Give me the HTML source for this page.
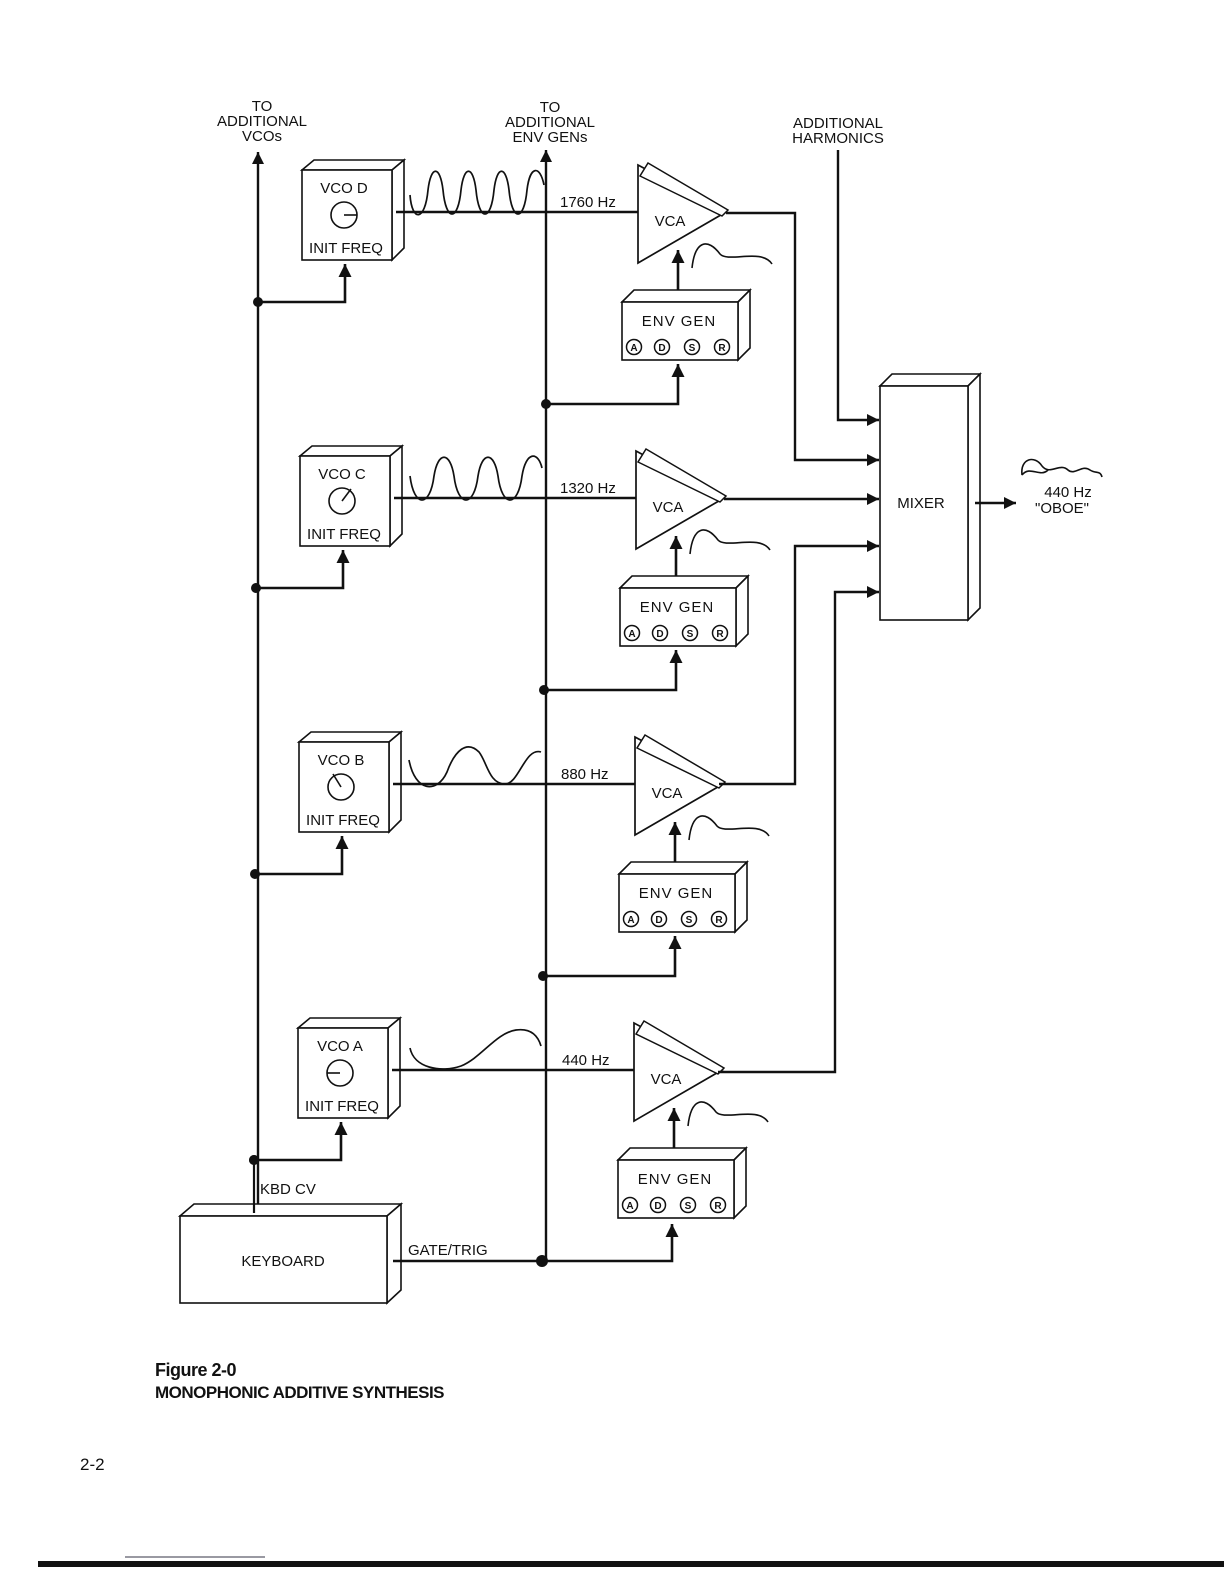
<!DOCTYPE html>
<html><head><meta charset="utf-8"><style>
html,body{margin:0;padding:0;background:#fff;}
svg{display:block;}
text{font-family:"Liberation Sans",sans-serif;fill:#111;}
</style></head><body>
<svg width="1224" height="1584" viewBox="0 0 1224 1584" xmlns="http://www.w3.org/2000/svg">
<defs>
<marker id="ah" viewBox="0 0 10 10" refX="10" refY="5" markerWidth="5" markerHeight="5" orient="auto" markerUnits="strokeWidth">
<path d="M0,0 L10,5 L0,10 z" fill="#111"/></marker>
<g id="rowbase">
 <polygon points="302,170 314,160 404,160 392,170" fill="#fff" stroke="#111" stroke-width="1.6"/>
 <polygon points="392,170 404,160 404,248 392,260" fill="#fff" stroke="#111" stroke-width="1.6"/>
 <rect x="302" y="170" width="90" height="90" fill="#fff" stroke="#111" stroke-width="1.6"/>
 <circle cx="344" cy="215" r="13" fill="none" stroke="#111" stroke-width="1.6"/>
 <text x="346" y="253" font-size="15" text-anchor="middle">INIT FREQ</text>
 <circle cx="258" cy="302" r="5" fill="#111"/>
 <polyline points="258,302 345,302 345,264" fill="none" stroke="#111" stroke-width="2.6" marker-end="url(#ah)"/>
 <line x1="396" y1="212" x2="638" y2="212" stroke="#111" stroke-width="2.4"/>
 <polygon points="638,165 726,212 638,263" fill="#fff" stroke="#111" stroke-width="1.7"/>
 <polygon points="648,163 728,210 722,216 640,176" fill="#fff" stroke="#111" stroke-width="1.5"/>
 <text x="670" y="226" font-size="15" text-anchor="middle">VCA</text>
 <path d="M692,268 C695,240 708,238 720,254 C728,263 762,248 772,264" fill="none" stroke="#111" stroke-width="1.6"/>
 <line x1="678" y1="292" x2="678" y2="250" stroke="#111" stroke-width="2.6" marker-end="url(#ah)"/>
 <polygon points="622,302 634,290 750,290 738,302" fill="#fff" stroke="#111" stroke-width="1.6"/>
 <polygon points="738,302 750,290 750,348 738,360" fill="#fff" stroke="#111" stroke-width="1.6"/>
 <rect x="622" y="302" width="116" height="58" fill="#fff" stroke="#111" stroke-width="1.6"/>
 <text x="679" y="326" font-size="15" text-anchor="middle" letter-spacing="1">ENV  GEN</text>
 <g font-size="10" text-anchor="middle" font-weight="bold">
  <circle cx="634" cy="347" r="7.5" fill="none" stroke="#111" stroke-width="1.5"/><text x="634" y="351">A</text>
  <circle cx="662" cy="347" r="7.5" fill="none" stroke="#111" stroke-width="1.5"/><text x="662" y="351">D</text>
  <circle cx="692" cy="347" r="7.5" fill="none" stroke="#111" stroke-width="1.5"/><text x="692" y="351">S</text>
  <circle cx="722" cy="347" r="7.5" fill="none" stroke="#111" stroke-width="1.5"/><text x="722" y="351">R</text>
 </g>
</g>
<g id="row">
 <use href="#rowbase"/>
 <circle cx="546" cy="404" r="5" fill="#111"/>
 <polyline points="546,404 678,404 678,364" fill="none" stroke="#111" stroke-width="2.6" marker-end="url(#ah)"/>
</g>
</defs>

<line x1="258" y1="1210" x2="258" y2="152" stroke="#111" stroke-width="2.4" marker-end="url(#ah)"/>
<line x1="546" y1="1262" x2="546" y2="150" stroke="#111" stroke-width="2.4" marker-end="url(#ah)"/>
<g font-size="15" text-anchor="middle">
<text x="262" y="111">TO</text><text x="262" y="126">ADDITIONAL</text><text x="262" y="141">VCOs</text>
<text x="550" y="112">TO</text><text x="550" y="127">ADDITIONAL</text><text x="550" y="142">ENV GENs</text>
<text x="838" y="128">ADDITIONAL</text><text x="838" y="143">HARMONICS</text>
</g>

<use href="#row"/>
<text x="344" y="193" font-size="15" text-anchor="middle">VCO D</text>
<line x1="344" y1="215" x2="357" y2="215" stroke="#111" stroke-width="1.6"/>
<path d="M410,195 C412,222 425,222 428,190 C431,165 440,165 443,190 C446,222 458,222 461,190 C464,165 473,165 476,190 C479,222 491,222 494,190 C497,165 506,165 509,190 C512,222 524,222 527,190 C530,165 540,165 544,185" fill="none" stroke="#111" stroke-width="1.7"/>
<text x="560" y="207" font-size="15">1760 Hz</text>

<g transform="translate(-2,286)"><use href="#row"/>
<text x="344" y="193" font-size="15" text-anchor="middle">VCO C</text>
<line x1="344" y1="215" x2="353" y2="203" stroke="#111" stroke-width="1.6"/>
<path d="M412,190 C416,222 432,222 436,190 C440,165 452,165 456,190 C460,222 476,222 480,190 C484,165 496,165 500,190 C504,222 520,222 524,190 C528,165 540,165 544,182" fill="none" stroke="#111" stroke-width="1.7"/>
<text x="562" y="207" font-size="15">1320 Hz</text>
</g>

<g transform="translate(-3,572)"><use href="#row"/>
<text x="344" y="193" font-size="15" text-anchor="middle">VCO B</text>
<line x1="344" y1="215" x2="336" y2="202" stroke="#111" stroke-width="1.6"/>
<path d="M412,188 C418,220 440,222 450,200 C458,178 470,168 482,180 C490,190 492,212 508,212 C522,212 528,175 544,180" fill="none" stroke="#111" stroke-width="1.7"/>
<text x="564" y="207" font-size="15">880 Hz</text>
</g>

<g transform="translate(-4,858)"><use href="#rowbase"/>
<text x="344" y="193" font-size="15" text-anchor="middle">VCO A</text>
<line x1="344" y1="215" x2="331" y2="215" stroke="#111" stroke-width="1.6"/>
<path d="M414,190 C418,210 445,215 465,208 C485,200 500,175 520,172 C535,170 542,178 545,188" fill="none" stroke="#111" stroke-width="1.7"/>
<text x="566" y="207" font-size="15">440 Hz</text>
</g>

<polygon points="880,386 892,374 980,374 968,386" fill="#fff" stroke="#111" stroke-width="1.6"/>
<polygon points="968,386 980,374 980,608 968,620" fill="#fff" stroke="#111" stroke-width="1.6"/>
<rect x="880" y="386" width="88" height="234" fill="#fff" stroke="#111" stroke-width="1.6"/>
<text x="921" y="508" font-size="15" text-anchor="middle">MIXER</text>
<g fill="none" stroke="#111" stroke-width="2.4">
<polyline points="838,150 838,420 879,420" marker-end="url(#ah)"/>
<polyline points="726,213 795,213 795,460 879,460" marker-end="url(#ah)"/>
<polyline points="724,499 879,499" marker-end="url(#ah)"/>
<polyline points="719,784 795,784 795,546 879,546" marker-end="url(#ah)"/>
<polyline points="718,1072 835,1072 835,592 879,592" marker-end="url(#ah)"/>
<polyline points="975,503 1016,503" marker-end="url(#ah)"/>
</g>
<path d="M1022,475 C1020,458 1035,455 1042,466 C1050,476 1060,462 1068,470 C1075,476 1082,464 1090,470 C1096,474 1100,470 1102,477 M1022,475 C1030,465 1040,478 1048,470" fill="none" stroke="#111" stroke-width="1.6"/>
<text x="1068" y="497" font-size="15" text-anchor="middle">440 Hz</text>
<text x="1062" y="513" font-size="15" text-anchor="middle">"OBOE"</text>

<circle cx="254" cy="1160" r="5" fill="#111"/>
<polygon points="180,1216 194,1204 401,1204 387,1216" fill="#fff" stroke="#111" stroke-width="1.6"/>
<polygon points="387,1216 401,1204 401,1290 387,1303" fill="#fff" stroke="#111" stroke-width="1.6"/>
<rect x="180" y="1216" width="207" height="87" fill="#fff" stroke="#111" stroke-width="1.6"/>
<line x1="254" y1="1160" x2="254" y2="1213" stroke="#111" stroke-width="2.2"/>
<text x="283" y="1266" font-size="15" text-anchor="middle">KEYBOARD</text>
<text x="260" y="1194" font-size="15">KBD CV</text>
<text x="408" y="1255" font-size="15">GATE/TRIG</text>
<line x1="393" y1="1261" x2="546" y2="1261" stroke="#111" stroke-width="2.4"/>
<circle cx="542" cy="1261" r="6" fill="#111"/>
<polyline points="542,1261 672,1261 672,1224" fill="none" stroke="#111" stroke-width="2.6" marker-end="url(#ah)"/>

<text x="155" y="1376" font-size="18" font-weight="bold" letter-spacing="-0.5">Figure 2-0</text>
<text x="155" y="1398" font-size="17" font-weight="bold" letter-spacing="-0.5">MONOPHONIC ADDITIVE SYNTHESIS</text>
<text x="80" y="1470" font-size="17">2-2</text>
<rect x="38" y="1561" width="1186" height="6" fill="#111"/>
<line x1="125" y1="1557" x2="265" y2="1557" stroke="#334" stroke-width="1"/>
</svg>
</body></html>
